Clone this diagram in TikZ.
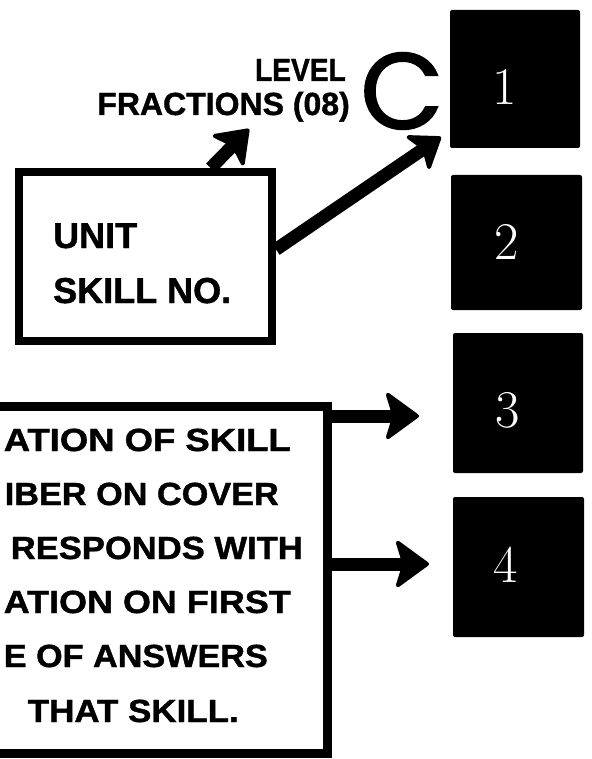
\documentclass[tikz,border=0pt]{standalone}
\usepackage{fontspec}
\newfontfamily\sansfont[FakeBold=1.2]{Liberation Sans}
\newfontfamily\cfont[FakeBold=1.5]{Poppins}
\usetikzlibrary{arrows.meta,calc}
\newcommand\fitto[2]{\resizebox{#1}{\height}{#2}}
\begin{document}
\begin{tikzpicture}[x=1pt,y=-1pt,
  numbox/.style={fill=black,rounded corners=2pt,inner sep=0pt},
  numtxt/.style={text=white,inner sep=0pt,font=\fontsize{53}{53}\selectfont},
  lab/.style={inner sep=0pt,font=\sansfont\bfseries\fontsize{36}{36}\selectfont},
  toplab/.style={inner sep=0pt,font=\sansfont\bfseries\fontsize{32}{32}\selectfont},
  boxlab/.style={inner sep=0pt,anchor=base east,font=\sansfont\bfseries\fontsize{32}{32}\selectfont},
  arr/.style={line width=13pt,-{Stealth[length=#1,width=1.45*#1,inset=8pt,round,line width=4pt]}},
  arr/.default=32pt,
  frame/.style={line width=8pt}]
\useasboundingbox (0,0) rectangle (591,759);

% black numbered squares
\node[numbox,minimum width=130pt,minimum height=138pt] (b1) at (515,79) {};
\node[numbox,minimum width=131pt,minimum height=135pt] (b2) at (516.5,242.5) {};
\node[numbox,minimum width=130pt,minimum height=140pt] (b3) at (518,403) {};
\node[numbox,minimum width=131pt,minimum height=140pt] (b4) at (518.5,567) {};
\node[numtxt] (n1) at (505,87) {1};
\node[numtxt] (n2) at (507,242) {2};
\node[numtxt] (n3) at (508,410) {3};
\node[numtxt] (n4) at (506,565) {4};

% level labels
\node[toplab,anchor=base east] (level) at (346,81) {\scalebox{0.88}[1]{LEVEL}};
\node[toplab,anchor=base east] (frac) at (350,115) {FRACTIONS (08)};
\node[inner sep=0pt,font=\cfont\fontsize{108}{108}\selectfont] (cc) at (402,91) {C};

% unit box
\node[draw,frame,minimum width=253pt,minimum height=169pt,inner sep=0pt] (ubox) at (145.5,256.5) {};
\node[lab,anchor=base west] (unit) at (53,248) {UNIT};
\node[lab,anchor=base west] (skill) at (53,303) {SKILL NO.};

\coordinate (tip1) at (249,129);
\coordinate (tip2) at (441,137);
\draw[arr=34pt] ($(ubox.north west)!0.75!(ubox.north east)$) -- (tip1);
\draw[arr=32pt] ($(ubox.north east)!0.46!(ubox.south east)$) -- (tip2);

% bottom box (cut by the left margin)
\coordinate (bl1) at (0,406);
\coordinate (br1) at (327,406);
\coordinate (br2) at (327,753);
\coordinate (bl2) at (0,753);
\draw[line width=9pt] (bl1) -- (br1) -- (br2) -- (bl2);
\node[boxlab] (t1) at (291,451) {\fitto{287pt}{ATION OF SKILL}};
\node[boxlab] (t2) at (279,505) {\fitto{274pt}{IBER ON COVER}};
\node[boxlab] (t3) at (303,559) {\fitto{292pt}{RESPONDS WITH}};
\node[boxlab] (t4) at (291,613) {\fitto{287pt}{ATION ON FIRST}};
\node[boxlab] (t5) at (268,667) {\fitto{264pt}{E OF ANSWERS}};
\node[boxlab] (t6) at (239,722) {\fitto{211pt}{THAT SKILL.}};

\coordinate (s3) at (327,416);
\coordinate (s4) at (327,564);
\coordinate (tip3) at (419,416);
\coordinate (tip4) at (429,564);
\draw[arr=36pt] (s3) -- (tip3);
\draw[arr=36pt] (s4) -- (tip4);
\end{tikzpicture}
\end{document}
